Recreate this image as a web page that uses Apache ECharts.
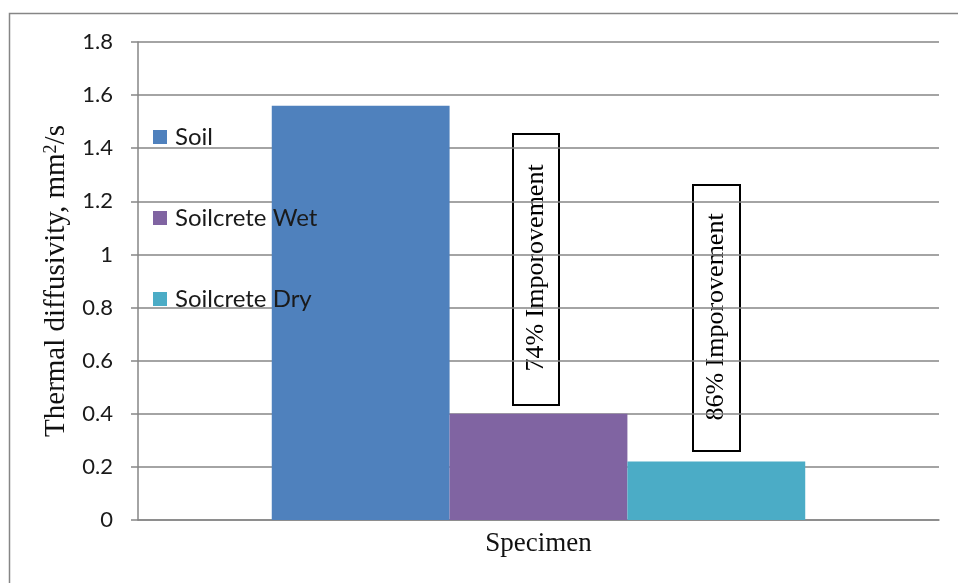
<!DOCTYPE html>
<html><head><meta charset="utf-8">
<script src="https://cdn.jsdelivr.net/npm/echarts@6/dist/echarts.min.js"></script>
<style>html,body{margin:0;padding:0;background:#fff}#c{width:958px;height:583px}</style>
</head><body><div id="c"></div>
<script>
const categories = ['Specimen'];
const seriesNames = ['Soil', 'Soilcrete Wet', 'Soilcrete Dry'];
const soilValues = [1.56];
const wetValues = [0.40];
const dryValues = [0.22];
const yTicks = { min: 0, max: 1.8, interval: 0.2 };
const annotations = ['74% Imporovement', '86% Imporovement'];
const colors = ['#4F81BD', '#8064A2', '#4BACC6'];

const chart = echarts.init(document.getElementById('c'));
const serif = '"Liberation Serif", "DejaVu Serif", serif';
const sans = 'Lato, "Open Sans", sans-serif';
const mk = (name, data, c) => ({
  name, type: 'bar', data, barWidth: '22.2%', barGap: '0%',
  itemStyle: { color: c }, emphasis: { disabled: true }
});
chart.setOption({
  animation: false,
  grid: { left: 138, right: 19, top: 42, bottom: 63 },
  legend: {
    orient: 'vertical', left: 148, top: 120, itemGap: 57,
    itemWidth: 14, itemHeight: 14, icon: 'rect',
    textStyle: { fontFamily: sans, fontSize: 24, color: '#1a1a1a', lineHeight: 24, padding: [0,0,0,3] },
    data: seriesNames
  },
  xAxis: {
    type: 'category', data: categories,
    axisLine: { lineStyle: { color: '#868686', width: 1.5 } },
    axisTick: { show: false },
    axisLabel: { fontFamily: serif, fontSize: 27, color: '#111', margin: 10 }
  },
  yAxis: {
    type: 'value', min: yTicks.min, max: yTicks.max, interval: yTicks.interval,
    name: '{a|Thermal diffusivity, mm}{s|2}{a|/s}',
    nameLocation: 'middle', nameGap: 61, nameRotate: 90,
    nameTextStyle: { rich: {
      a: { fontFamily: serif, fontSize: 29, color: '#111' },
      s: { fontFamily: serif, fontSize: 18, color: '#111', verticalAlign: 'top', padding: [0,0,10,0] }
    } },
    axisLine: { show: true, lineStyle: { color: '#868686', width: 1.5 } },
    axisTick: { show: true, length: 7, lineStyle: { color: '#868686', width: 1.5 } },
    splitLine: { lineStyle: { color: '#868686', width: 1.5 } },
    axisLabel: { fontFamily: sans, fontSize: 22, color: '#1a1a1a', margin: 25,
      formatter: v => String(Math.round(v * 10) / 10) }
  },
  series: [
    mk(seriesNames[0], soilValues, colors[0]),
    mk(seriesNames[1], wetValues, colors[1]),
    mk(seriesNames[2], dryValues, colors[2])
  ],
  graphic: [
    { type: 'rect', left: 7, top: 11, z: -1, silent: true,
      shape: { width: 960, height: 590 }, style: { fill: 'none', stroke: '#868686', lineWidth: 1.5 } },
    { type: 'group', left: 512, top: 133, children: [
      { type: 'rect', shape: { width: 46, height: 271 }, style: { fill: '#fff', stroke: '#000', lineWidth: 2 } },
      { type: 'text', x: 23, y: 134, rotation: Math.PI / 2,
        style: { text: annotations[0], fontFamily: serif, fontSize: 26, fill: '#000', align: 'center', verticalAlign: 'middle' } }
    ] },
    { type: 'group', left: 692, top: 184, children: [
      { type: 'rect', shape: { width: 47, height: 266 }, style: { fill: '#fff', stroke: '#000', lineWidth: 2 } },
      { type: 'text', x: 23, y: 132, rotation: Math.PI / 2,
        style: { text: annotations[1], fontFamily: serif, fontSize: 26, fill: '#000', align: 'center', verticalAlign: 'middle' } }
    ] }
  ]
});
</script></body></html>
